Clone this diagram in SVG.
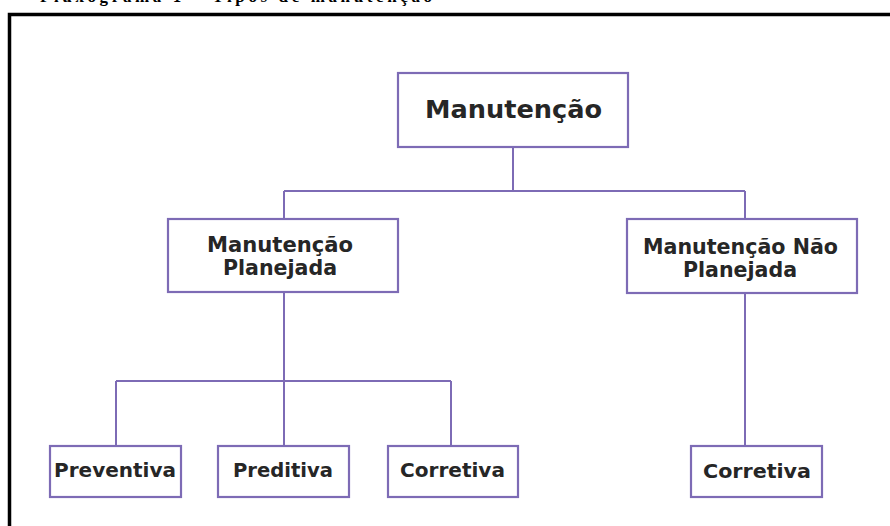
<svg xmlns="http://www.w3.org/2000/svg" width="890" height="526" viewBox="0 0 890 526">
<style>
.box{fill:#ffffff;stroke:#7d6bb5;stroke-width:2.2}
.ln{fill:none;stroke:#7d6bb5;stroke-width:2}
.t{font-family:"DejaVu Sans",sans-serif;font-weight:bold;fill:#262626;text-anchor:middle}
.cap{font-family:"Liberation Serif",serif;font-weight:bold;fill:#000000}
</style>
<rect width="890" height="526" fill="#ffffff"/>
<text class="cap" x="40" y="2" font-size="17" textLength="392" lengthAdjust="spacing">Fluxograma 1 – Tipos de manutenção</text>
<rect x="9.5" y="14.5" width="900" height="600" fill="none" stroke="#000000" stroke-width="3.5"/>
<g id="connectors">
<path class="ln" d="M513 147 V191 M284 191 H745 M284 191 V219 M745 191 V219"/>
<path class="ln" d="M284 292 V446 M116 381 H451 M116 381 V446 M451 381 V446"/>
<path class="ln" d="M745 293 V446"/>
</g>
<g id="n-manutencao">
<rect class="box" x="398" y="73" width="230" height="74"/>
<text class="t" x="513.5" y="118" font-size="24" textLength="177" lengthAdjust="spacingAndGlyphs">Manutenção</text>
</g>
<g id="n-planejada">
<rect class="box" x="168" y="219" width="230" height="73"/>
<text class="t" x="280" y="252" font-size="21" textLength="146" lengthAdjust="spacingAndGlyphs">Manutenção</text>
<text class="t" x="280" y="275" font-size="21" textLength="114" lengthAdjust="spacingAndGlyphs">Planejada</text>
</g>
<g id="n-nao-planejada">
<rect class="box" x="627" y="219" width="230" height="74"/>
<text class="t" x="740.5" y="254" font-size="21" textLength="195" lengthAdjust="spacingAndGlyphs">Manutenção Não</text>
<text class="t" x="740" y="277" font-size="21" textLength="114" lengthAdjust="spacingAndGlyphs">Planejada</text>
</g>
<g id="n-preventiva">
<rect class="box" x="50" y="446" width="131" height="51"/>
<text class="t" x="115" y="477" font-size="20" textLength="122" lengthAdjust="spacingAndGlyphs">Preventiva</text>
</g>
<g id="n-preditiva">
<rect class="box" x="218" y="446" width="131" height="51"/>
<text class="t" x="283" y="477" font-size="20" textLength="100" lengthAdjust="spacingAndGlyphs">Preditiva</text>
</g>
<g id="n-corretiva-1">
<rect class="box" x="388" y="446" width="130" height="51"/>
<text class="t" x="452.5" y="477" font-size="20" textLength="105" lengthAdjust="spacingAndGlyphs">Corretiva</text>
</g>
<g id="n-corretiva-2">
<rect class="box" x="691" y="446" width="131" height="51"/>
<text class="t" x="757" y="478" font-size="20" textLength="108" lengthAdjust="spacingAndGlyphs">Corretiva</text>
</g>
</svg>
